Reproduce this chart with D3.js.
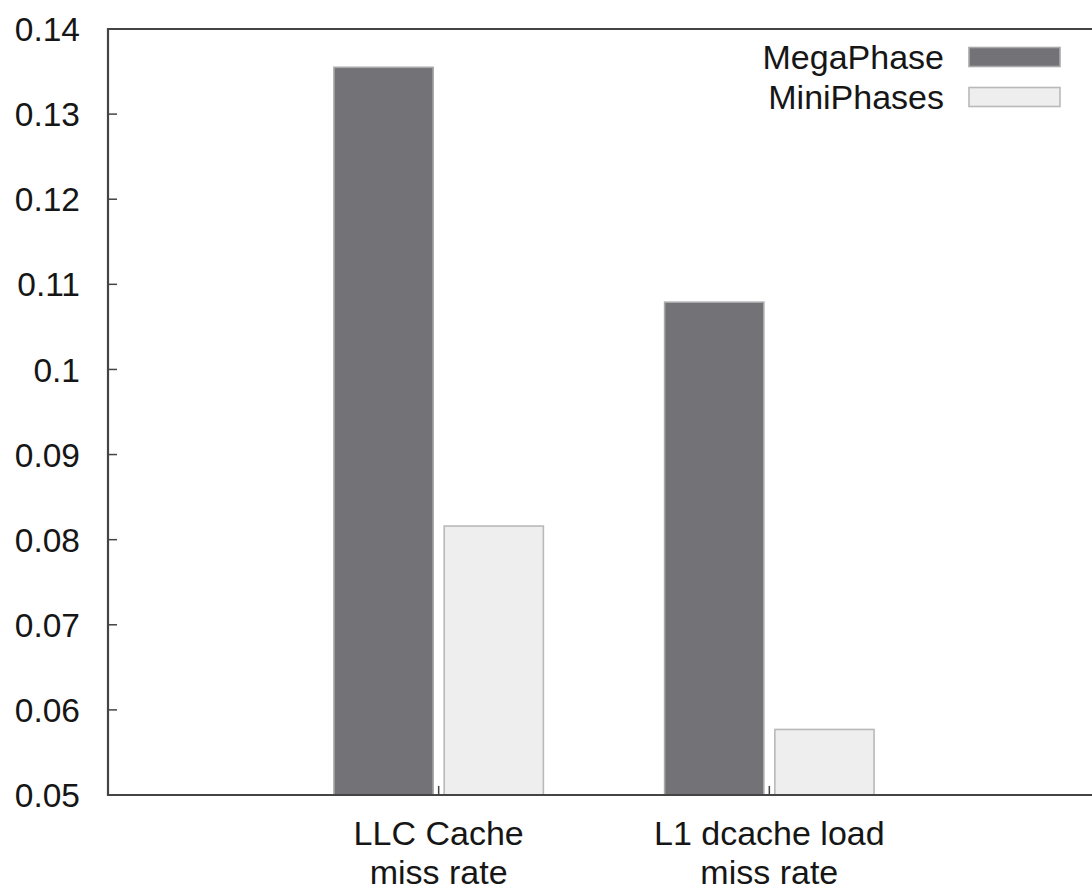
<!DOCTYPE html>
<html>
<head>
<meta charset="utf-8">
<script src="https://cdn.jsdelivr.net/npm/d3@7"></script>
<style>
  html, body { margin: 0; padding: 0; background: #fff; }
  svg { display: block; }
  text { font-family: "Liberation Sans", Arial, sans-serif; fill: #161616; }
</style>
</head>
<body>
<svg id="chart" width="1092" height="893"></svg>
<script>
// Miss-rate comparison data
const categories = [["LLC Cache", "miss rate"], ["L1 dcache load", "miss rate"]];
const seriesNames = ["MegaPhase", "MiniPhases"];
const megaPhase = [0.1355, 0.1079];
const miniPhases = [0.0816, 0.0577];
const yTicks = [0.05, 0.06, 0.07, 0.08, 0.09, 0.1, 0.11, 0.12, 0.13, 0.14];

(function () {
  const seriesValues = [megaPhase, miniPhases];
  const fills = ["#737377", "#eeeeee"];
  const strokes = ["#a9a9ab", "#b9b9b9"];

  const svg = d3.select("#chart");

  // Plot frame (right side extends past the visible area)
  const plotLeft = 108, plotRight = 1100, plotTop = 29, plotBottom = 795;

  const x = d3.scaleLinear().domain([-1, 2]).range([plotLeft, plotRight]);
  const y = d3.scaleLinear().domain([0.05, 0.14]).range([plotBottom, plotTop]);

  const slot = 1 / (seriesNames.length + 1);
  const barW = slot * 0.9;

  // Bars
  seriesValues.forEach((vals, s) => {
    const off = (s - (seriesNames.length - 1) / 2) * slot;
    svg.append("g").selectAll("rect")
      .data(vals)
      .join("rect")
      .attr("x", (d, i) => x(i + off - barW / 2))
      .attr("width", x(barW) - x(0))
      .attr("y", d => y(d))
      .attr("height", d => y(0.05) - y(d))
      .attr("fill", fills[s])
      .attr("stroke", strokes[s])
      .attr("stroke-width", 1.6);
  });

  // Y axis ticks and labels
  const yAxis = svg.append("g");
  yAxis.selectAll("line")
    .data(yTicks)
    .join("line")
    .attr("x1", plotLeft).attr("x2", plotLeft + 9)
    .attr("y1", d => y(d)).attr("y2", d => y(d))
    .attr("stroke", "#444").attr("stroke-width", 1.5);
  yAxis.selectAll("text")
    .data(yTicks)
    .join("text")
    .attr("x", 80)
    .attr("y", d => y(d))
    .attr("dy", "0.36em")
    .attr("text-anchor", "end")
    .style("font-size", "33.5px")
    .text(d => String(+d.toFixed(2)));

  // X axis ticks and labels
  const xAxis = svg.append("g");
  xAxis.selectAll("line")
    .data(categories)
    .join("line")
    .attr("x1", (d, i) => x(i)).attr("x2", (d, i) => x(i))
    .attr("y1", plotBottom).attr("y2", plotBottom - 9)
    .attr("stroke", "#444").attr("stroke-width", 1.5);
  xAxis.selectAll("text")
    .data(categories)
    .join("text")
    .attr("text-anchor", "middle")
    .style("font-size", "34px")
    .each(function (d, i) {
      const t = d3.select(this);
      d.forEach((line, k) => {
        t.append("tspan")
          .attr("x", x(i))
          .attr("y", 845 + k * 39)
          .text(line);
      });
    });

  // Frame
  svg.append("path")
    .attr("d", `M${plotRight},${plotTop}H${plotLeft}V${plotBottom}H${plotRight}`)
    .attr("fill", "none")
    .attr("stroke", "#444")
    .attr("stroke-width", 2.2);

  // Legend
  const legend = svg.append("g");
  seriesNames.forEach((name, s) => {
    const cy = 57 + s * 40;
    legend.append("text")
      .attr("x", 944).attr("y", cy)
      .attr("dy", "0.36em")
      .attr("text-anchor", "end")
      .style("font-size", "34px")
      .text(name);
    legend.append("rect")
      .attr("x", 969).attr("y", cy - 9.5)
      .attr("width", 91).attr("height", 19)
      .attr("fill", fills[s])
      .attr("stroke", strokes[s])
      .attr("stroke-width", 1.6);
  });
})();
</script>
</body>
</html>
